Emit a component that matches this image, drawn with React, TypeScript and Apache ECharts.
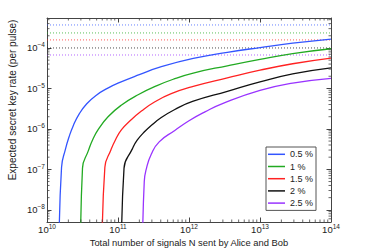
import React, { useEffect, useRef } from "react";
import * as echarts from "echarts";

const seriesNames = ["0.5 %", "1 %", "1.5 %", "2 %", "2.5 %"];
const seriesColors = ["#3355ff", "#22aa22", "#ff2222", "#111111", "#9933ff"];

// [N, key rate]
const blue: number[][] = [
  [1.479e10, 1e-9], [1.603e10, 1.122e-7], [1.82e10, 3.162e-7], [2.042e10, 6.31e-7],
  [2.344e10, 1.202e-6], [2.818e10, 2.291e-6], [3.631e10, 4.169e-6], [5.012e10, 6.918e-6],
  [7.079e10, 1.0e-5], [1.0e11, 1.349e-5], [1.995e11, 2.188e-5], [3.981e11, 3.388e-5],
  [1.148e12, 5.495e-5], [3.467e12, 7.762e-5], [1.0e13, 1.023e-4], [2.884e13, 1.318e-4],
  [1.0e14, 1.66e-4],
];
const green: number[][] = [
  [2.965e10, 1e-9], [3.162e10, 1.072e-7], [3.802e10, 2.818e-7], [4.365e10, 5.248e-7],
  [5.248e10, 9.55e-7], [7.244e10, 1.995e-6], [1.122e11, 3.89e-6], [1.95e11, 7.079e-6],
  [3.548e11, 1.175e-5], [6.31e11, 1.738e-5], [1.148e12, 2.399e-5], [3.467e12, 3.631e-5],
  [1.0e13, 5.248e-5], [2.884e13, 7.244e-5], [1.0e14, 9.55e-5],
];
const red: number[][] = [
  [5.97e10, 1e-9], [6.531e10, 1.122e-7], [7.943e10, 3.02e-7], [9.333e10, 5.623e-7],
  [1.122e11, 9.55e-7], [1.479e11, 1.585e-6], [2.138e11, 2.754e-6], [3.311e11, 4.677e-6],
  [5.623e11, 7.413e-6], [1.148e12, 1.122e-5], [3.467e12, 1.82e-5], [1.0e13, 2.818e-5],
  [2.884e13, 4.074e-5], [1.0e14, 5.623e-5],
];
const black: number[][] = [
  [1.119e11, 1e-9], [1.216e11, 1.072e-7], [1.585e11, 3.162e-7], [1.862e11, 5.248e-7],
  [2.399e11, 8.71e-7], [3.02e11, 1.259e-6], [3.981e11, 1.862e-6], [6.31e11, 3.02e-6],
  [1.122e12, 4.786e-6], [3.467e12, 8.511e-6], [1.0e13, 1.445e-5], [2.884e13, 2.291e-5],
  [1.0e14, 3.236e-5],
];
const purple: number[][] = [
  [2.213e11, 1e-9], [2.344e11, 5.012e-8], [2.512e11, 1.047e-7], [2.951e11, 2.399e-7],
  [3.802e11, 4.786e-7], [6.31e11, 9.12e-7], [1.0e12, 1.585e-6], [1.679e12, 2.63e-6],
  [3.02e12, 4.266e-6], [1.0e13, 8.913e-6], [2.884e13, 1.349e-5], [1.0e14, 1.778e-5],
];
const curves = [blue, green, red, black, purple];

// asymptotic (dotted) levels
const limits = [3.7e-4, 2.35e-4, 1.58e-4, 1.0e-4, 6.7e-5];

const xMin = 1e10;
const xMax = 1e14;
const yMin = 5e-9;
const yMax = 5.5e-4;

const xTitle = "Total number of signals N sent by Alice and Bob";
const yTitle = "Expected secret key rate (per pulse)";

const FONT = "'Liberation Sans', Arial, Helvetica, sans-serif";
const AXIS = "#444";

function minorValues(lo: number, hi: number): number[] {
  const out: number[] = [];
  for (let k = Math.floor(Math.log10(lo)); k <= Math.ceil(Math.log10(hi)); k++) {
    for (let m = 2; m <= 9; m++) {
      const v = m * Math.pow(10, k);
      if (v > lo && v < hi) out.push(v);
    }
  }
  return out;
}

function expLabel(v: number): string {
  const e = Math.log10(v);
  const r = Math.round(e);
  if (Math.abs(e - r) > 1e-6) return "";
  const s = r < 0 ? "\u2212" + String(-r) : String(r);
  return "{b|10}{e|" + s + "}";
}

const richStyle = {
  b: { fontSize: 9.5, lineHeight: 10, fontFamily: FONT, color: "#222", verticalAlign: "bottom" },
  e: { fontSize: 6.5, lineHeight: 7, fontFamily: FONT, color: "#222", verticalAlign: "bottom", padding: [0, 0, 4.5, 0] },
};

export default function App() {
  const ref = useRef<HTMLDivElement>(null);
  useEffect(() => {
    if (!ref.current) return;
    const chart = echarts.init(ref.current, null, { renderer: "svg" });
    const xMinor = minorValues(xMin, xMax);
    const yMinor = minorValues(yMin, yMax);
    const tickLen = 2.5;
    const series: any[] = [];
    limits.forEach((v, i) => {
      series.push({
        name: "limit " + seriesNames[i],
        type: "line",
        data: [[xMin, v], [xMax, v]],
        showSymbol: false,
        symbol: "none",
        silent: true,
        lineStyle: { color: seriesColors[i], width: 1, type: [1, 2], opacity: 0.75 },
        z: 1,
      });
    });
    curves.forEach((c, i) => {
      series.push({
        name: seriesNames[i],
        type: "line",
        data: c,
        showSymbol: false,
        symbol: "none",
        smooth: 0.5,
        color: seriesColors[i],
        lineStyle: { color: seriesColors[i], width: 1.3 },
        z: 3,
      });
    });
    series.push({
      name: "xminor",
      type: "custom",
      silent: true,
      clip: false,
      data: xMinor.map((v) => [v, 1e-6]),
      renderItem: (params: any, api: any) => {
        const cs = params.coordSys;
        const p = api.coord([api.value(0), api.value(1)]);
        const b = cs.y + cs.height;
        return {
          type: "group",
          children: [
            { type: "line", shape: { x1: p[0], y1: b, x2: p[0], y2: b - tickLen }, style: { stroke: AXIS, lineWidth: 0.8 } },
            { type: "line", shape: { x1: p[0], y1: cs.y, x2: p[0], y2: cs.y + tickLen }, style: { stroke: AXIS, lineWidth: 0.8 } },
          ],
        };
      },
      z: 4,
    });
    series.push({
      name: "yminor",
      type: "custom",
      silent: true,
      clip: false,
      data: yMinor.map((v) => [1e12, v]),
      renderItem: (params: any, api: any) => {
        const cs = params.coordSys;
        const p = api.coord([api.value(0), api.value(1)]);
        const r = cs.x + cs.width;
        return {
          type: "group",
          children: [
            { type: "line", shape: { x1: cs.x, y1: p[1], x2: cs.x + tickLen, y2: p[1] }, style: { stroke: AXIS, lineWidth: 0.8 } },
            { type: "line", shape: { x1: r, y1: p[1], x2: r - tickLen, y2: p[1] }, style: { stroke: AXIS, lineWidth: 0.8 } },
          ],
        };
      },
      z: 4,
    });

    const baseX = {
      type: "log",
      logBase: 10,
      min: xMin,
      max: xMax,
      splitLine: { show: false },
      axisLine: { show: true, onZero: false, lineStyle: { color: AXIS, width: 1 } },
      axisTick: { show: true, inside: true, length: 4.5, lineStyle: { color: AXIS, width: 1 } },
    };
    const baseY = {
      type: "log",
      logBase: 10,
      min: yMin,
      max: yMax,
      splitLine: { show: false },
      axisLine: { show: true, onZero: false, lineStyle: { color: AXIS, width: 1 } },
      axisTick: { show: true, inside: true, length: 4.5, lineStyle: { color: AXIS, width: 1 } },
    };

    chart.setOption({
      animation: false,
      backgroundColor: "#ffffff",
      textStyle: { fontFamily: FONT },
      grid: { left: 47, right: 35, top: 18, bottom: 28, containLabel: false, outerBoundsMode: "none" },
      legend: {
        data: seriesNames,
        orient: "vertical",
        left: 266,
        top: 147,
        icon: "rect",
        itemWidth: 17,
        itemHeight: 1.5,
        itemGap: 0,
        padding: [1.2, 3, 1.2, 2],
        backgroundColor: "#ffffff",
        borderColor: "#555",
        borderWidth: 1,
        borderRadius: 0,
        selectedMode: false,
        textStyle: { fontSize: 9, fontFamily: FONT, color: "#222", lineHeight: 12.2 },
      },
      xAxis: [
        {
          ...baseX,
          position: "bottom",
          name: xTitle,
          nameLocation: "middle",
          nameGap: 15.5,
          nameMoveOverlap: false,
          nameTextStyle: { fontSize: 9.4, lineHeight: 10, fontFamily: FONT, color: "#222", verticalAlign: "top" },
          axisLabel: { show: true, margin: 2.5, formatter: expLabel, rich: richStyle, showMinLabel: true, showMaxLabel: true },
        },
        { ...baseX, position: "top", axisLabel: { show: false } },
      ],
      yAxis: [
        {
          ...baseY,
          position: "left",
          axisLabel: { show: true, margin: 2, formatter: expLabel, rich: richStyle },
        },
        { ...baseY, position: "right", axisLabel: { show: false } },
      ],
      graphic: [
        {
          type: "text",
          x: 12,
          y: 100,
          rotation: Math.PI / 2,
          style: {
            text: yTitle,
            fontSize: 10,
            fontFamily: FONT,
            fill: "#222",
            align: "center",
            verticalAlign: "middle",
          },
        },
      ],
      series,
    });
    return () => chart.dispose();
  }, []);
  return (
    <div
      ref={ref}
      style={{ position: "fixed", left: 0, top: 0, width: 366, height: 250, background: "#fff" }}
    />
  );
}
